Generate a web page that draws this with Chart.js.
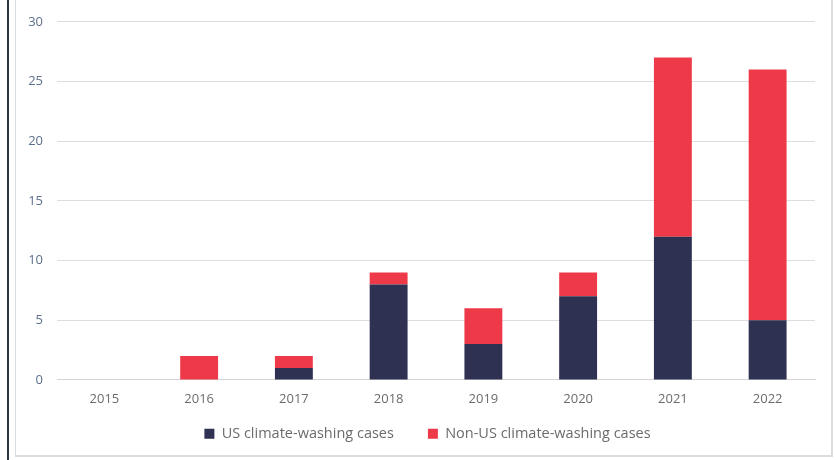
<!DOCTYPE html>
<html>
<head>
<meta charset="utf-8">
<script src="https://cdn.jsdelivr.net/npm/chart.js@4/dist/chart.umd.min.js"></script>
<style>
  html, body { margin: 0; padding: 0; background: #fff; }
  #wrap { position: relative; width: 836px; height: 460px; overflow: hidden; }
  #edge { position: absolute; left: 7px; top: 0; width: 2px; height: 460px; background: #2d3540; }
  #frame { position: absolute; left: 15px; top: -2px; width: 815px; height: 456px; border: 1px solid #dcdcdc; border-width: 1px 2px 2px 1px; }
  #box { position: absolute; left: 0; top: 0; width: 836px; height: 460px; }
</style>
</head>
<body>
<div id="wrap">
  <div id="edge"></div>
  <div id="frame"></div>
  <div id="box"><canvas id="casesChart"></canvas></div>
</div>
<script>
"use strict";

// data
var years = ['2015', '2016', '2017', '2018', '2019', '2020', '2021', '2022'];
var usCases = [0, 0, 1, 8, 3, 7, 12, 5];
var nonUsCases = [0, 2, 1, 1, 3, 2, 15, 21];
var yTicks = [0, 5, 10, 15, 20, 25, 30];

var navy = '#2e3151';
var red = '#ee3a48';
var fontName = "'Open Sans', 'Lato', sans-serif";

// legend padding is used for both the gap between items and the space
// above the row, so take the extra vertical part back out here
var legendGap = 34;
var legendVert = 7;
var legendShiftX = 20;

var tightLegend = {
    id: 'tightLegend',
    beforeInit: function (chart) {
        var legend = chart.legend;
        var fit = legend.fit;
        var draw = legend.draw;
        legend.fit = function () {
            fit.call(this);
            this.height -= (legendGap - legendVert);
        };
        legend.draw = function () {
            var d = legendGap - legendVert;
            this.top -= d;
            this.left += legendShiftX;
            this.right += legendShiftX;
            draw.call(this);
            this.top += d;
            this.left -= legendShiftX;
            this.right -= legendShiftX;
        };
    }
};

var config = {
    type: 'bar',
    data: {
        labels: years,
        datasets: [{
            label: 'US climate-washing cases',
            backgroundColor: navy,
            borderColor: navy,
            data: usCases,
            barPercentage: 0.4,
            categoryPercentage: 1.0
        },
        {
            label: 'Non-US climate-washing cases',
            backgroundColor: red,
            borderColor: red,
            data: nonUsCases,
            barPercentage: 0.4,
            categoryPercentage: 1.0
        }]
    },
    options: {
        responsive: true,
        maintainAspectRatio: false,
        animation: false,
        layout: {
            padding: { left: 0, right: 21, top: 10, bottom: 9 }
        },
        plugins: {
            tooltip: { enabled: false },
            legend: {
                position: 'bottom',
                labels: {
                    boxWidth: 10,
                    boxHeight: 10,
                    padding: legendGap,
                    color: '#6b6b6b',
                    font: { family: fontName, size: 14.5 }
                }
            }
        },
        scales: {
            x: {
                stacked: true,
                grid: { display: false, drawTicks: false },
                border: { display: true, color: '#d4d4d4', width: 1 },
                ticks: {
                    color: '#6b6b6b',
                    padding: 12,
                    font: { family: fontName, size: 13 }
                }
            },
            y: {
                stacked: true,
                min: 0,
                max: 30,
                afterBuildTicks: function (scale) {
                    scale.ticks = yTicks.map(function (v) { return { value: v }; });
                },
                afterFit: function (scale) {
                    scale.width = 57;
                },
                grid: { color: '#dedede', drawTicks: false },
                border: { display: false },
                ticks: {
                    color: '#5c6f8c',
                    padding: 14,
                    font: { family: fontName, size: 13 }
                }
            }
        }
    },
    plugins: [tightLegend]
};

new Chart(document.getElementById('casesChart'), config);
</script>
</body>
</html>
